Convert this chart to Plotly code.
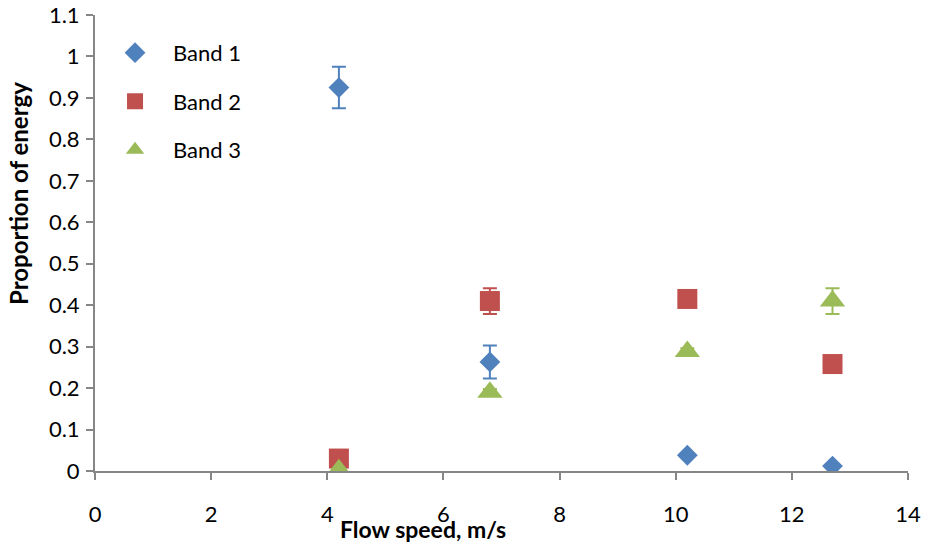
import plotly.graph_objects as go

flow_speed = [4.2, 6.8, 10.2, 12.7]
band1 = [0.925, 0.263, 0.038, 0.012]
band1_err = [0.05, 0.04, 0.0, 0.0]
band2 = [0.030, 0.410, 0.415, 0.258]
band2_err = [0.0, 0.031, 0.0, 0.0]
band3 = [0.003, 0.190, 0.288, 0.410]
band3_err = [0.0, 0.008, 0.008, 0.031]

names = ["Band 1", "Band 2", "Band 3"]
colors = ["#4F81BD", "#C0504D", "#9BBB59"]
symbols = ["diamond", "square", "triangle-up"]
sizes = [16, 20, 22]

fig = go.Figure()
for i, (vals, errs) in enumerate([(band1, band1_err), (band2, band2_err), (band3, band3_err)]):
    fig.add_trace(go.Scatter(
        x=flow_speed, y=vals, mode="markers", name=names[i],
        legendgroup=names[i],
        marker=dict(symbol=symbols[i], size=sizes[i], color=colors[i], line=dict(width=0)),
        error_y=dict(type="data", array=errs, visible=True, color=colors[i],
                     thickness=2, width=7),
    ))

axis_col = "#868686"
fig.update_layout(
    width=925, height=544,
    margin=dict(l=95, r=17, t=15, b=73, autoexpand=False),
    paper_bgcolor="white", plot_bgcolor="white",
    font=dict(family="Lato, Carlito, sans-serif", size=22, color="black"),
    showlegend=True,
    legend=dict(x=0.0025, y=0.963, xanchor="left", yanchor="top",
                bgcolor="rgba(0,0,0,0)", font=dict(size=22),
                tracegroupgap=17, itemwidth=66),
    xaxis=dict(range=[0, 14], dtick=2, tick0=0, showline=True, linecolor=axis_col,
               linewidth=2, ticks="outside", ticklen=7, tickwidth=2, tickcolor=axis_col,
               showgrid=False, zeroline=False, ticklabelstandoff=16, automargin=False,
               tickfont=dict(size=22)),
    yaxis=dict(range=[0, 1.1], dtick=0.1, tick0=0, showline=True, linecolor=axis_col,
               linewidth=2, ticks="outside", ticklen=7, tickwidth=2, tickcolor=axis_col,
               showgrid=False, zeroline=False, ticklabelstandoff=2, automargin=False,
               tickfont=dict(size=22)),
    annotations=[
        dict(text="<b>Flow speed, m/s</b>", xref="paper", yref="paper",
             x=(423 - 95) / 813, y=-(529 - 471) / 456, xanchor="center", yanchor="middle",
             showarrow=False, font=dict(size=23)),
        dict(text="<b>Proportion of energy</b>", xref="paper", yref="paper",
             x=-(95 - 18) / 813, y=(471 - 194) / 456, xanchor="center", yanchor="middle",
             textangle=-90, showarrow=False, font=dict(size=24)),
    ],
)

fig.write_html("out.html")
